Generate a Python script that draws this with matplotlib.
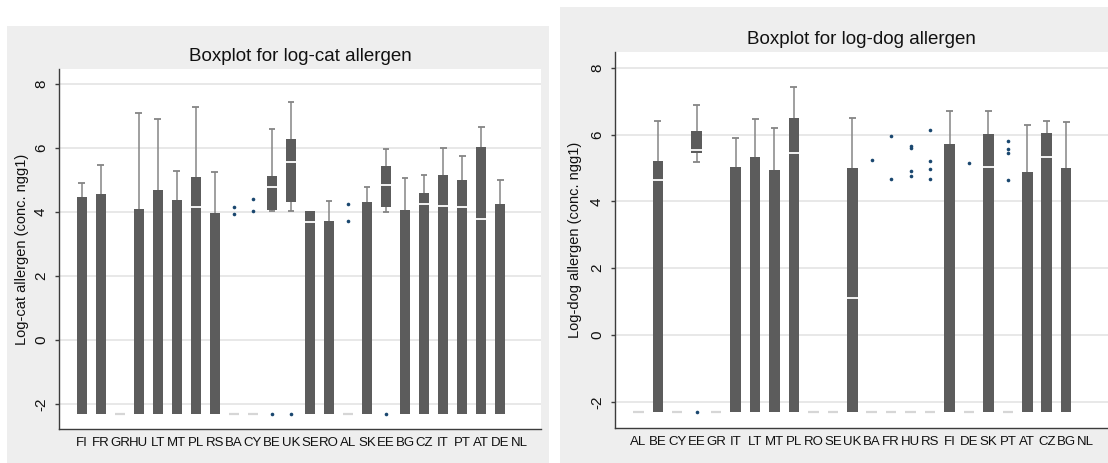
import numpy as np
import matplotlib
matplotlib.use("Agg")
import matplotlib.pyplot as plt
from matplotlib.patches import Rectangle

plt.rcParams["axes.unicode_minus"] = False
REG = ["Liberation Sans", "DejaVu Sans"]

NAN = np.nan

# ---- log-cat allergen (conc. ngg1) : box statistics ----
cat_names = ["FI", "FR", "GR", "HU", "LT", "MT", "PL", "RS", "BA", "CY", "BE", "UK",
             "SE", "RO", "AL", "SK", "EE", "BG", "CZ", "IT", "PT", "AT", "DE", "NL"]
cat_q1 = [-2.3, -2.3, -2.3, -2.3, -2.3, -2.3, -2.3, -2.3, -2.3, -2.3, 4.05, 4.32,
          -2.3, -2.3, -2.3, -2.3, 4.17, -2.3, -2.3, -2.3, -2.3, -2.3, -2.3, NAN]
cat_med = [-2.3, -2.3, -2.3, -2.3, -2.3, -2.3, 4.17, -2.3, -2.3, -2.3, 4.78, 5.57,
           3.68, -2.3, -2.3, -2.3, 4.84, -2.3, 4.25, 4.20, 4.17, 3.78, -2.3, NAN]
cat_q3 = [4.46, 4.56, -2.3, 4.08, 4.69, 4.38, 5.10, 3.98, -2.3, -2.3, 5.13, 6.28,
          4.03, 3.73, -2.3, 4.32, 5.44, 4.06, 4.58, 5.16, 5.00, 6.04, 4.25, NAN]
cat_wlo = [-2.3, -2.3, -2.3, -2.3, -2.3, -2.3, -2.3, -2.3, -2.3, -2.3, 4.03, 4.04,
           -2.3, -2.3, -2.3, -2.3, 4.01, -2.3, -2.3, -2.3, -2.3, -2.3, -2.3, NAN]
cat_whi = [4.90, 5.47, -2.3, 7.08, 6.90, 5.28, 7.29, 5.25, -2.3, -2.3, 6.60, 7.45,
           4.03, 4.33, -2.3, 4.77, 5.96, 5.05, 5.15, 5.99, 5.75, 6.67, 5.00, NAN]
cat_out = [[], [], [], [], [], [], [], [], [4.17, 3.93], [4.42, 4.04], [-2.3], [-2.3],
           [], [], [4.24, 3.72], [], [-2.3], [], [], [], [], [], [], []]

# ---- log-dog allergen (conc. ngg1) ----
dog_names = ["AL", "BE", "CY", "EE", "GR", "IT", "LT", "MT", "PL", "RO", "SE", "UK",
             "BA", "FR", "HU", "RS", "FI", "DE", "SK", "PT", "AT", "CZ", "BG", "NL"]
dog_q1 = [-2.3, -2.3, -2.3, 5.45, -2.3, -2.3, -2.3, -2.3, -2.3, -2.3, -2.3, -2.3,
          -2.3, -2.3, -2.3, -2.3, -2.3, -2.3, -2.3, -2.3, -2.3, -2.3, -2.3, NAN]
dog_med = [-2.3, 4.63, -2.3, 5.53, -2.3, -2.3, -2.3, -2.3, 5.45, -2.3, -2.3, 1.12,
           -2.3, -2.3, -2.3, -2.3, -2.3, -2.3, 5.02, -2.3, -2.3, 5.32, -2.3, NAN]
dog_q3 = [-2.3, 5.22, -2.3, 6.12, -2.3, 5.04, 5.32, 4.93, 6.50, -2.3, -2.3, 5.00,
          -2.3, -2.3, -2.3, -2.3, 5.72, -2.3, 6.02, -2.3, 4.89, 6.06, 5.00, NAN]
dog_wlo = [-2.3, -2.3, -2.3, 5.18, -2.3, -2.3, -2.3, -2.3, -2.3, -2.3, -2.3, -2.3,
           -2.3, -2.3, -2.3, -2.3, -2.3, -2.3, -2.3, -2.3, -2.3, -2.3, -2.3, NAN]
dog_whi = [-2.3, 6.42, -2.3, 6.87, -2.3, 5.90, 6.47, 6.20, 7.43, -2.3, -2.3, 6.50,
           -2.3, -2.3, -2.3, -2.3, 6.69, -2.3, 6.71, -2.3, 6.30, 6.42, 6.38, NAN]
dog_out = [[], [], [], [-2.3], [], [], [], [], [], [], [], [],
           [5.24], [5.97, 4.68], [5.67, 5.60, 4.90, 4.75], [6.15, 5.22, 4.96, 4.66],
           [], [5.16], [], [5.82, 5.57, 5.45, 4.65], [], [], [], []]

yticks = [-2, 0, 2, 4, 6, 8]

BOX = "#5c5c5c"; WHISK = "#858585"; FLAT = "#d6d6d6"; DOT = "#1a476f"
PANEL = "#eeeeee"; GRID = "#e6e6e6"; AXC = "#3c3c3c"
BW = 0.54; CW = 0.36

W, H = 1108, 463
fig = plt.figure(figsize=(W / 100, H / 100), dpi=100)
fig.patch.set_facecolor("white")
fig.add_artist(Rectangle((7 / W, 0), 542 / W, (H - 26) / H, transform=fig.transFigure,
                         facecolor=PANEL, edgecolor="none", zorder=-5))
fig.add_artist(Rectangle((560 / W, 0), 548 / W, (H - 7) / H, transform=fig.transFigure,
                         facecolor=PANEL, edgecolor="none", zorder=-5))


def panel(rect, names, q1, med, q3, wlo, whi, out, title, ylabel, ylab_x):
    ax = fig.add_axes(rect)
    ax.set_facecolor("white")
    for i in range(len(names)):
        if np.isnan(q1[i]):
            continue
        if q3[i] - q1[i] < 0.01:
            ax.hlines(q1[i], i - BW / 2, i + BW / 2, color=FLAT, lw=1.6, zorder=2)
        else:
            ax.bar(i, q3[i] - q1[i], bottom=q1[i], width=BW, color=BOX, lw=0, zorder=3)
            if med[i] > q1[i] + 0.01:
                ax.hlines(med[i], i - BW / 2, i + BW / 2, color="white", lw=1.3, zorder=4)
        if whi[i] > q3[i] + 0.01:
            ax.vlines(i, q3[i], whi[i], color=WHISK, lw=1.1, zorder=2)
            ax.hlines(whi[i], i - CW / 2, i + CW / 2, color=WHISK, lw=1.3, zorder=2)
        if wlo[i] < q1[i] - 0.01:
            ax.vlines(i, wlo[i], q1[i], color=WHISK, lw=1.1, zorder=2)
            ax.hlines(wlo[i], i - CW / 2, i + CW / 2, color=WHISK, lw=1.3, zorder=2)
        if out[i]:
            ax.plot([i] * len(out[i]), out[i], "o", ms=2.6, color=DOT, mew=0, zorder=5)
    ax.set_xlim(-1.2, len(names) - 1 + 1.15)
    ax.set_ylim(-2.78, 8.47)
    ax.set_yticks(yticks)
    ax.set_yticklabels([str(t) for t in yticks], rotation=90, va="center",
                       fontsize=11, family=REG)
    ax.set_xticks(range(len(names)))
    ax.set_xticklabels(names, fontsize=9.5, family=REG)
    ax.tick_params(axis="x", length=0, pad=6, colors="#111111")
    ax.tick_params(axis="y", length=3, width=1, pad=5, color=AXC, labelcolor="#111111")
    ax.yaxis.grid(True, color=GRID, lw=1.3)
    ax.set_axisbelow(True)
    for s in ("top", "right"):
        ax.spines[s].set_visible(False)
    for s in ("left", "bottom"):
        ax.spines[s].set_color(AXC)
        ax.spines[s].set_linewidth(1.0)
    ax.set_ylabel(ylabel, fontsize=10.5, family=REG, color="#111111")
    ax.yaxis.set_label_coords(ylab_x, 0.5)
    ax.set_title(title, fontsize=13.5, family=REG, color="#111111", pad=6)
    return ax


panel([59 / W, (H - 429) / H, 482 / W, 360 / H], cat_names, cat_q1, cat_med, cat_q3,
      cat_wlo, cat_whi, cat_out, "Boxplot for log-cat allergen",
      "Log-cat allergen (conc. ngg1)", -0.062)
panel([615 / W, (H - 428) / H, 493 / W, 376 / H], dog_names, dog_q1, dog_med, dog_q3,
      dog_wlo, dog_whi, dog_out, "Boxplot for log-dog allergen",
      "Log-dog allergen (conc. ngg1)", -0.067)

fig.savefig("out.png", dpi=100)
